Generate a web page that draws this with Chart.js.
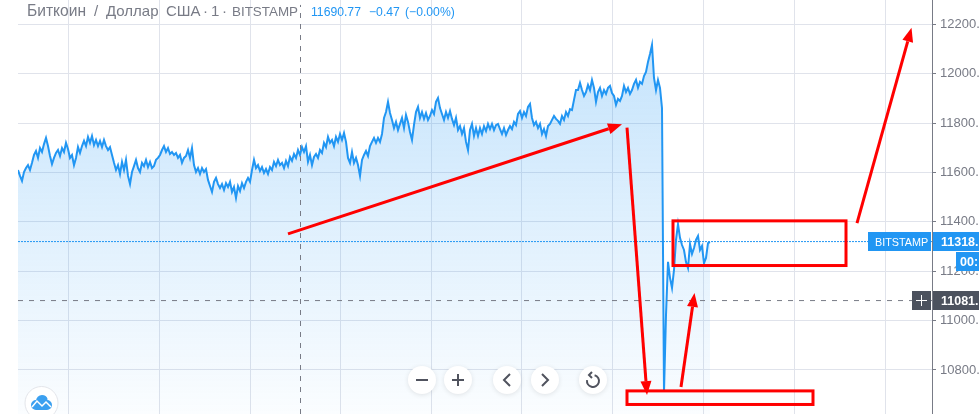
<!DOCTYPE html>
<html><head><meta charset="utf-8">
<style>html,body{margin:0;padding:0;background:#fff;overflow:hidden}canvas{display:block}</style>
<script src="https://cdn.jsdelivr.net/npm/chart.js@4"></script></head>
<body><canvas id="c" width="979" height="414"></canvas>
<script>
// Close price, one sample every 2 minutes
const prices = [
11610,11586,11566,11602,11618,11630,11610,11639,11671,11687,
11659,11699,11683,11715,11740,11707,11667,11634,11659,11679,
11691,11667,11699,11683,11720,11695,11659,11671,11630,11659,
11703,11679,11707,11728,11707,11744,11720,11748,11711,11732,
11707,11728,11703,11732,11707,11691,11703,11671,11639,11610,
11630,11594,11643,11610,11651,11586,11553,11602,11626,11651,
11618,11602,11639,11626,11651,11622,11643,11618,11626,11651,
11659,11671,11691,11707,11683,11699,11675,11683,11671,11679,
11659,11671,11639,11659,11667,11691,11659,11699,11630,11602,
11618,11594,11618,11602,11614,11570,11545,11521,11562,11578,
11553,11537,11553,11529,11557,11541,11562,11521,11541,11497,
11545,11525,11557,11537,11562,11578,11562,11610,11651,11618,
11630,11606,11622,11598,11614,11594,11622,11610,11643,11626,
11651,11630,11639,11618,11647,11626,11663,11647,11675,11659,
11691,11671,11703,11683,11707,11643,11671,11630,11663,11675,
11659,11691,11679,11720,11703,11744,11720,11732,11707,11744,
11724,11756,11732,11760,11724,11659,11639,11683,11639,11659,
11630,11586,11651,11671,11687,11667,11707,11724,11740,11720,
11740,11724,11756,11821,11845,11886,11841,11813,11780,11805,
11772,11797,11821,11780,11833,11805,11764,11732,11793,11845,
11866,11821,11845,11817,11841,11813,11829,11853,11837,11886,
11902,11861,11837,11813,11845,11821,11849,11817,11792,11821,
11772,11788,11756,11780,11724,11691,11772,11797,11748,11780,
11748,11780,11756,11788,11768,11797,11776,11797,11772,11792,
11797,11776,11756,11780,11752,11772,11788,11776,11805,11792,
11837,11849,11821,11845,11829,11866,11878,11821,11792,11805,
11780,11797,11756,11776,11748,11788,11797,11813,11829,11817,
11809,11797,11829,11813,11845,11829,11857,11853,11894,11934,
11934,11963,11934,11910,11926,11955,11934,11975,11943,11886,
11926,11943,11910,11934,11918,11943,11951,11922,11910,11874,
11898,11890,11910,11951,11926,11943,11918,11934,11959,11975,
11943,11967,11959,11991,12007,12048,12080,12117,11983,11934,
11975,11943,11861,10711,11023,11238,11173,11132,11205,11327,
11391,11335,11306,11286,11237,11213,11310,11270,11294,11327,
11343,11286,11302,11233,11254,11314,11318];
const sampleStep = 2;
const priceTicks = [10800,11000,11200,11400,11600,11800,12000,12200];
const timeTicks = [50,141,232,322,413,503.5,594,685,776,867];
const timeRange = [0,914];
const priceRange = [10621.4,12298.9];
const lastPriceLine = 11320;
const lastPriceLabel = '11318.';
const crossPrice = 11081;
const crossPriceLabel = '11081.';
const crossTime = 282.5;
const titleParts = [['Биткоин',27,15.6],['/',94,15],['Доллар',106,15],['США',166,15],['·',203,15],['1',211,15],['·',222,15],['BITSTAMP',232,13.4]];
const quoteParts = [['11690.77',311],['−0.47',369],['(−0.00%)',405]];
// Hand-drawn red marks: [fromMinute, fromPrice, toMinute, toPrice]
const redArrows = [[270,11351,604,11795],[609,11782,629,10698],[663,10731,676.5,11112],[839,11395,893.5,12186]];
const redBoxes = [[655,11404,828,11223],[609,10715,795,10660]];

const BLUE='#2196f3', GREY='#787b86', GRID='#e0e3eb', RED='#ff0000', DARK='#4c525e';
const points = prices.map((p,i)=>({x:i*sampleStep,y:p}));

const overlay = {
  id:'overlay',
  afterDatasetsDraw(ch){
    const c=ch.ctx,X=ch.scales.x,Y=ch.scales.y;
    c.save();
    c.strokeStyle=RED;c.fillStyle=RED;c.lineWidth=3;
    redBoxes.forEach(b=>{const x1=X.getPixelForValue(b[0]),y1=Y.getPixelForValue(b[1]),x2=X.getPixelForValue(b[2]),y2=Y.getPixelForValue(b[3]);c.strokeRect(x1,y1,x2-x1,y2-y1);});
    redArrows.forEach(a=>{
      const x1=X.getPixelForValue(a[0]),y1=Y.getPixelForValue(a[1]),x2=X.getPixelForValue(a[2]),y2=Y.getPixelForValue(a[3]);
      const t=Math.atan2(y2-y1,x2-x1),len=14,hw=5.5,bx=x2-len*Math.cos(t),by=y2-len*Math.sin(t);
      c.beginPath();c.moveTo(x1,y1);c.lineTo(bx,by);c.stroke();
      c.beginPath();c.moveTo(x2,y2);c.lineTo(bx-hw*Math.sin(t),by+hw*Math.cos(t));c.lineTo(bx+hw*Math.sin(t),by-hw*Math.cos(t));c.closePath();c.fill();
    });
    c.restore();
  },
  afterDraw(ch){
    const c=ch.ctx;
    c.save();
    // header
    c.textBaseline='alphabetic';c.textAlign='left';
    c.fillStyle=GREY;
    titleParts.forEach(p=>{c.font=p[2]+'px "Liberation Sans"';c.fillText(p[0],p[1],16);});
    c.font='12.2px "Liberation Sans"';c.fillStyle=BLUE;
    quoteParts.forEach(p=>c.fillText(p[0],p[1],16));
    // price tags
    const yL=232,yC=291;
    c.fillStyle=BLUE;
    c.fillRect(868,yL,63,19);c.fillRect(933,yL,46,19);c.fillRect(956,yL+20,23,19);
    c.fillStyle=DARK;
    c.fillRect(912,yC,19,19);c.fillRect(933,yC,46,19);
    c.fillStyle='#fff';
    c.font='10.8px "Liberation Sans"';c.fillText('BITSTAMP',875,yL+14);
    c.font='bold 12.5px "Liberation Sans"';
    c.fillText(lastPriceLabel,941,yL+14);
    c.fillText('00:',960,yL+34);
    c.fillText(crossPriceLabel,941,yC+14);
    c.fillRect(916,yC+9,11,1);c.fillRect(921,yC+4,1,11);
    // nav buttons
    c.strokeStyle='#50535e';c.lineWidth=2;c.lineCap='butt';c.lineJoin='miter';
    const btn=(x,draw)=>{
      c.save();c.shadowColor='rgba(0,0,0,.10)';c.shadowBlur=5;c.shadowOffsetY=1;c.fillStyle='#fff';
      c.beginPath();c.arc(x,380,14,0,Math.PI*2);c.fill();c.restore();
      c.beginPath();draw(x);c.stroke();
    };
    btn(422,x=>{c.moveTo(x-6,380);c.lineTo(x+6,380);});
    btn(458,x=>{c.moveTo(x-6,380);c.lineTo(x+6,380);c.moveTo(x,374);c.lineTo(x,386);});
    btn(507,x=>{c.moveTo(x+3,374);c.lineTo(x-3,380);c.lineTo(x+3,386);});
    btn(545,x=>{c.moveTo(x-3,374);c.lineTo(x+3,380);c.lineTo(x-3,386);});
    btn(593,x=>{c.arc(x,381,6,-1.3,Math.PI*1.05,false);c.moveTo(x-1,372);c.lineTo(x-4,375);c.lineTo(x-1,378);});
    // logo
    c.save();c.fillStyle='#fff';c.strokeStyle='#e3e5ea';c.lineWidth=1;
    c.beginPath();c.arc(41.5,403,16.5,0,Math.PI*2);c.fill();c.stroke();
    c.fillStyle='#3ba0f0';c.beginPath();
    c.arc(36,405,5,Math.PI*.5,Math.PI*1.5);c.arc(42,401,6,Math.PI,Math.PI*1.9);c.arc(47,405,5,-Math.PI*.5,Math.PI*.5);c.closePath();c.fill();
    c.strokeStyle='#fff';c.lineWidth=1.5;c.beginPath();c.moveTo(32,407);c.lineTo(37,401);c.lineTo(42,406);c.lineTo(46,402);c.lineTo(51,407);c.stroke();
    c.restore();
    c.restore();
  }
};

new Chart(document.getElementById('c'),{
  type:'line',
  plugins:[overlay],
  data:{datasets:[
    {data:points,parsing:false,order:1,borderColor:BLUE,borderWidth:2,pointRadius:0,tension:0,
     fill:'start',
     backgroundColor(ctx){
       const a=ctx.chart.chartArea; if(!a) return 'rgba(33,150,243,.2)';
       const g=ctx.chart.ctx.createLinearGradient(0,45,0,a.bottom);
       g.addColorStop(0,'rgba(33,150,243,.26)');g.addColorStop(1,'rgba(33,150,243,.02)');return g;
     }},
    {data:[{x:timeRange[0],y:lastPriceLine},{x:timeRange[1],y:lastPriceLine}],parsing:false,order:2,borderColor:BLUE,borderWidth:1,borderDash:[2,1],pointRadius:0,fill:false},
    {data:[{x:timeRange[0],y:crossPrice},{x:timeRange[1],y:crossPrice}],parsing:false,order:0,borderColor:GREY,borderWidth:1,borderDash:[5,6],pointRadius:0,fill:false},
    {data:[{x:crossTime,y:priceRange[0]},{x:crossTime,y:priceRange[1]-20}],parsing:false,order:0,borderColor:GREY,borderWidth:1,borderDash:[5,6],pointRadius:0,fill:false}
  ]},
  options:{
    responsive:false,animation:false,
    layout:{padding:{left:18,right:0,top:0,bottom:0}},
    plugins:{legend:{display:false},tooltip:{enabled:false},title:{display:false}},
    scales:{
      x:{type:'linear',min:timeRange[0],max:timeRange[1],
         afterBuildTicks(s){s.ticks=timeTicks.map(v=>({value:v}));},
         afterFit(s){s.height=0;s.paddingLeft=0;s.paddingRight=0;},
         ticks:{display:false},
         border:{display:true,color:GRID},
         grid:{color:GRID,lineWidth:1,drawTicks:false}},
      y:{position:'right',min:priceRange[0],max:priceRange[1],
         afterBuildTicks(s){s.ticks=priceTicks.map(v=>({value:v}));},
         afterFit(s){s.width=47;s.paddingTop=0;s.paddingBottom=0;},
         border:{display:true,color:GREY,width:1},
         grid:{color:GRID,lineWidth:1,tickColor:GREY,tickLength:4},
         ticks:{color:GREY,padding:4,align:'center',crossAlign:'near',font:{family:'"Liberation Sans"',size:13},
                callback:v=>v+'.'}}
    }
  }
});
</script></body></html>
